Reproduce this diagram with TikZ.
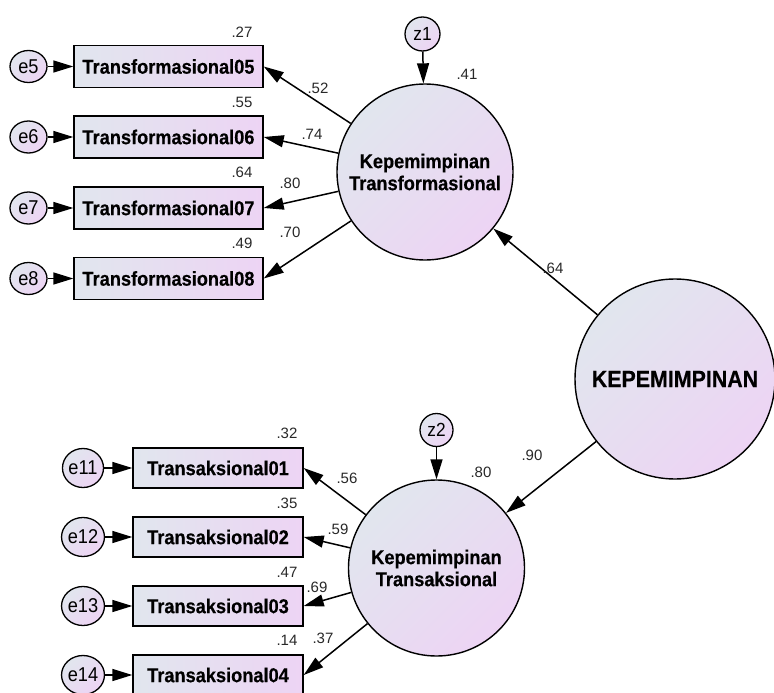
\documentclass[tikz,border=0pt]{standalone}
\usepackage{fontspec}
\setmainfont{Liberation Sans}
\newfontfamily\labfont{Liberation Sans}[FakeStretch=0.91, BoldFeatures={FakeBold=0.4}]
\usetikzlibrary{arrows.meta,shapes.geometric}

\definecolor{fillA}{RGB}{225,230,238}
\definecolor{fillB}{RGB}{237,212,244}
\definecolor{coef}{RGB}{40,40,40}

\tikzset{
  shadefill/.style={top color=fillA, bottom color=fillB, shading angle=45},
  obsbox/.style={draw=black, line width=1.4pt, rectangle, inner sep=0pt,
    left color=fillA, right color=fillB,
    font=\labfont\fontsize{20}{22}\selectfont\bfseries},
  latent/.style={draw=black, line width=1.4pt, circle, inner sep=0pt,
    minimum size=176pt, shadefill, align=center,
    font=\labfont\fontsize{20}{22}\selectfont\bfseries},
  errc/.style={draw=black, line width=1.3pt, ellipse, inner sep=0pt,
    shadefill, font=\labfont\fontsize{20}{22}\selectfont},
  path/.style={draw=black, line width=1.5pt,
    -{Triangle[length=20pt,width=12pt]}},
  num/.style={text=coef, font=\fontsize{15}{16}\selectfont, inner sep=0pt}
}

\begin{document}
\begin{tikzpicture}[x=1pt,y=-1pt]
\useasboundingbox (0,0) rectangle (774,693);

% second-order factor
\node[latent, minimum size=200pt, font=\labfont\fontsize{23.5}{24}\selectfont\bfseries] (K) at (675,379) {KEPEMIMPINAN};

% first-order factors
\node[latent] (TF) at (425,172) {Kepemimpinan\\Transformasional};
\node[latent] (TS) at (436.5,568) {Kepemimpinan\\Transaksional};

% disturbances
\node[errc, minimum width=35pt, minimum height=34pt, font=\labfont\fontsize{19}{20}\selectfont] (z1) at (422.5,34) {z1};
\node[errc, minimum width=33pt, minimum height=33pt, font=\labfont\fontsize{19}{20}\selectfont] (z2) at (436.5,430) {z2};

% transformational indicators
\foreach \n/\y in {05/66.5, 06/137, 07/208, 08/278.5}{
  \node[obsbox, minimum width=189pt, minimum height=42pt] (b\n) at (168.5,\y) {Transformasional\n};
}
\node[errc, minimum width=37pt, minimum height=32pt] (e5) at (28.5,66.5) {e5};
\node[errc, minimum width=37pt, minimum height=32pt] (e6) at (28.5,137) {e6};
\node[errc, minimum width=37pt, minimum height=32pt] (e7) at (28.5,208) {e7};
\node[errc, minimum width=37pt, minimum height=32pt] (e8) at (28.5,278.5) {e8};

% transactional indicators
\foreach \n/\y in {01/468, 02/537, 03/606, 04/675}{
  \node[obsbox, minimum width=170pt, minimum height=40pt] (s\n) at (218,\y) {Transaksional\n};
}
\node[errc, minimum width=40pt, minimum height=39pt] (e11) at (83,468) {e11};
\node[errc, minimum width=40pt, minimum height=39pt] (e12) at (83,537) {e12};
\node[errc, minimum width=40pt, minimum height=39pt] (e13) at (83,606) {e13};
\node[errc, minimum width=40pt, minimum height=39pt] (e14) at (83,675) {e14};

% structural paths
\draw[path] (K) -- (TF);
\draw[path] (K) -- (TS);
\draw[path] (z1) -- (TF);
\draw[path] (z2) -- (TS);

% loadings
\draw[path] (TF) -- (b05.east);
\draw[path] (TF) -- (b06.east);
\draw[path] (TF) -- (b07.east);
\draw[path] (TF) -- (b08.east);
\draw[path] (TS) -- (s01.east);
\draw[path] (TS) -- (s02.east);
\draw[path] (TS) -- (s03.east);
\draw[path] (TS) -- (s04.east);

% error terms
\draw[path] (e5) -- (b05);
\draw[path] (e6) -- (b06);
\draw[path] (e7) -- (b07);
\draw[path] (e8) -- (b08);
\draw[path] (e11) -- (s01);
\draw[path] (e12) -- (s02);
\draw[path] (e13) -- (s03);
\draw[path] (e14) -- (s04);

% estimates
\node[num] (r05) at (242,32) {.27};
\node[num] (r06) at (242,102) {.55};
\node[num] (r07) at (242,172) {.64};
\node[num] (r08) at (242,243) {.49};
\node[num] (l05) at (318,88) {.52};
\node[num] (l06) at (312,134) {.74};
\node[num] (l07) at (290,183) {.80};
\node[num] (l08) at (290,232) {.70};
\node[num] (rTF) at (467,74) {.41};
\node[num] (pTF) at (553,268) {.64};
\node[num] (pTS) at (532,455) {.90};
\node[num] (rTS) at (481,472) {.80};
\node[num] (r01) at (287,433) {.32};
\node[num] (r02) at (287,503) {.35};
\node[num] (r03) at (287,572) {.47};
\node[num] (r04) at (287,640) {.14};
\node[num] (l01) at (347,478) {.56};
\node[num] (l02) at (338,529) {.59};
\node[num] (l03) at (317,587) {.69};
\node[num] (l04) at (323,638) {.37};
\end{tikzpicture}
\end{document}
